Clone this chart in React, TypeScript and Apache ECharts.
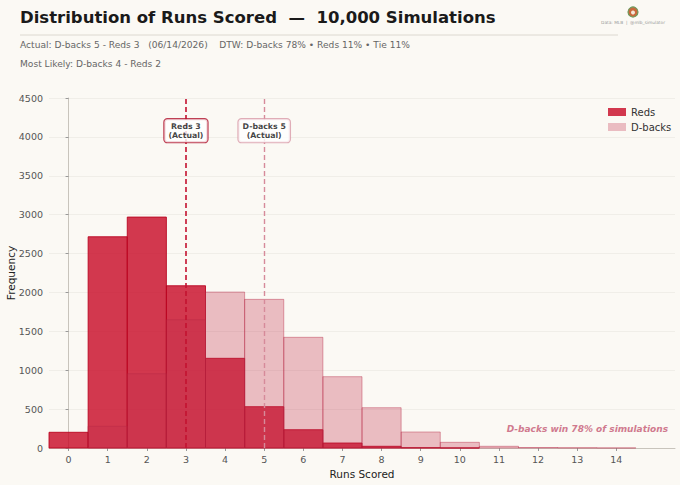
import React, { useEffect, useRef } from "react";
import * as echarts from "echarts";

const runs = [0, 1, 2, 3, 4, 5, 6, 7, 8, 9, 10, 11, 12, 13, 14];
const redsFreq = [202, 2716, 2969, 2086, 1153, 531, 235, 64, 22, 4, 1, 0, 0, 0, 0];
const dbacksFreq = [0, 279, 955, 1649, 2005, 1911, 1423, 917, 518, 206, 73, 22, 6, 3, 1];
const yTicks = { min: 0, max: 4500, interval: 500 };
const actualReds = 3;
const actualDbacks = 5;
const boxY = 4080;

const FONT = "DejaVu Sans";
const BG = "#fbf9f4";

export default function App() {
  const ref = useRef<HTMLDivElement>(null);
  useEffect(() => {
    document.body.style.margin = "0";
    document.body.style.background = BG;
    const chart = echarts.init(ref.current!, null, { renderer: "svg" });
    const makeRender = (fill: string, stroke: string) => (params: any, api: any) => {
      const x = api.value(0);
      const y = api.value(1);
      if (!y) return null;
      const p0 = api.coord([x - 0.5, y]);
      const p1 = api.coord([x + 0.5, 0]);
      return {
        type: "rect",
        shape: { x: p0[0], y: p0[1], width: p1[0] - p0[0], height: p1[1] - p0[1] },
        style: { fill, stroke, lineWidth: 1 },
      };
    };
    const redsFill = "rgba(200,8,36,0.8)";
    const dbFill = "rgba(195,45,75,0.3)";
    chart.setOption({
      animation: false,
      backgroundColor: BG,
      textStyle: { fontFamily: FONT },
      grid: { left: 49, right: 5, top: 98, bottom: 37, containLabel: false, outerBoundsMode: "none" },
      legend: {
        orient: "vertical",
        left: 603,
        top: 102,
        itemWidth: 18,
        itemHeight: 8,
        itemGap: 5,
        icon: "rect",
        textStyle: { fontFamily: FONT, fontSize: 10, color: "#333" },
        data: [
          { name: "Reds", itemStyle: { color: redsFill } },
          { name: "D-backs", itemStyle: { color: dbFill } },
        ],
      },
      xAxis: {
        type: "value",
        min: -0.5,
        max: 15.5,
        name: "Runs Scored",
        nameLocation: "middle",
        nameGap: 19,
        nameTextStyle: { fontFamily: FONT, fontSize: 10.5, color: "#222" },
        axisLine: { show: true, lineStyle: { color: "#c8c4bc" } },
        axisTick: { show: true, length: 3, lineStyle: { color: "#999" }, customValues: runs },
        axisLabel: { fontFamily: FONT, fontSize: 9.5, color: "#555", margin: 6, customValues: runs },
        splitLine: { show: false },
      },
      yAxis: {
        type: "value",
        min: yTicks.min,
        max: yTicks.max,
        interval: yTicks.interval,
        axisLine: { show: true, lineStyle: { color: "#c8c4bc" } },
        axisTick: { show: true, length: 3, lineStyle: { color: "#999" } },
        axisLabel: { fontFamily: FONT, fontSize: 9.5, color: "#555", margin: 6, formatter: (v: number) => String(v) },
        splitLine: { show: true, lineStyle: { color: "#eeebe4", width: 0.8 } },
      },
      series: [
        {
          name: "Reds",
          type: "custom",
          renderItem: makeRender(redsFill, "rgba(185,0,28,0.85)"),
          itemStyle: { color: redsFill },
          data: runs.map((r, i) => [r, redsFreq[i]]),
          z: 2,
        },
        {
          name: "D-backs",
          type: "custom",
          renderItem: makeRender(dbFill, "rgba(180,40,70,0.42)"),
          itemStyle: { color: dbFill },
          data: runs.map((r, i) => [r, dbacksFreq[i]]),
          z: 3,
          markLine: {
            silent: true,
            symbol: "none",
            label: { show: false },
            data: [
              { xAxis: actualReds, lineStyle: { color: "#c41230", type: [5, 3], width: 1.6 } },
              { xAxis: actualDbacks, lineStyle: { color: "#d68a9a", type: [5, 3], width: 1.4 } },
            ],
          },
        },
        {
          name: "annot",
          type: "scatter",
          symbolSize: 0,
          z: 10,
          data: [
            {
              value: [actualReds, boxY],
              label: {
                show: true,
                position: "inside",
                formatter: "Reds 3\n(Actual)",
                fontFamily: FONT,
                fontSize: 7.8,
                fontWeight: "bold",
                color: "#111",
                lineHeight: 9,
                backgroundColor: "#ffffff",
                borderColor: "#b0122c",
                borderWidth: 1.2,
                borderRadius: 3,
                padding: [3, 4, 2, 4],
              },
            },
            {
              value: [actualDbacks, boxY],
              label: {
                show: true,
                position: "inside",
                formatter: "D-backs 5\n(Actual)",
                fontFamily: FONT,
                fontSize: 7.8,
                fontWeight: "bold",
                color: "#111",
                lineHeight: 9,
                backgroundColor: "#ffffff",
                borderColor: "#d99aa7",
                borderWidth: 1.2,
                borderRadius: 3,
                padding: [3, 4, 2, 4],
              },
            },
          ],
        },
      ],
      graphic: [
        {
          type: "text",
          left: 20,
          top: 9,
          style: {
            text: "Distribution of Runs Scored  —  10,000 Simulations",
            fontFamily: FONT,
            fontSize: 16.5,
            fontWeight: "bold",
            fill: "#1a1a1a",
          },
        },
        {
          type: "line",
          shape: { x1: 20, y1: 35, x2: 618, y2: 35 },
          style: { stroke: "#dcd8d0", lineWidth: 1 },
        },
        {
          type: "text",
          left: 20,
          top: 40,
          style: {
            text: "Actual: D-backs 5 - Reds 3   (06/14/2026)    DTW: D-backs 78% • Reds 11% • Tie 11%",
            fontFamily: FONT,
            fontSize: 9.1,
            fill: "#666",
          },
        },
        {
          type: "text",
          left: 20,
          top: 59,
          style: {
            text: "Most Likely: D-backs 4 - Reds 2",
            fontFamily: FONT,
            fontSize: 9.1,
            fill: "#666",
          },
        },
        {
          type: "text",
          x: 11,
          y: 273,
          rotation: Math.PI / 2,
          style: {
            text: "Frequency",
            fontFamily: FONT,
            fontSize: 10.5,
            fill: "#222",
            align: "center",
            verticalAlign: "middle",
          },
        },
        {
          type: "circle",
          shape: { cx: 633, cy: 12, r: 5 },
          style: { fill: "#c9683c", stroke: "#6f9a5c", lineWidth: 1.2 },
        },
        {
          type: "circle",
          shape: { cx: 633, cy: 12.5, r: 2 },
          style: { fill: "#f3e6d6" },
        },
        {
          type: "text",
          x: 633,
          y: 22,
          style: {
            text: "Data: MLB  |  @mlb_simulator",
            fontFamily: FONT,
            fontSize: 4.3,
            fill: "#999",
            align: "center",
            verticalAlign: "middle",
          },
        },
        {
          type: "text",
          right: 12,
          top: 424,
          style: {
            text: "D-backs win 78% of simulations",
            fontFamily: FONT,
            fontSize: 9,
            fontWeight: "bold",
            fontStyle: "italic",
            fill: "#d07a8e",
          },
        },
      ],
    });
    return () => chart.dispose();
  }, []);
  return <div ref={ref} style={{ width: 680, height: 485, background: BG }} />;
}
